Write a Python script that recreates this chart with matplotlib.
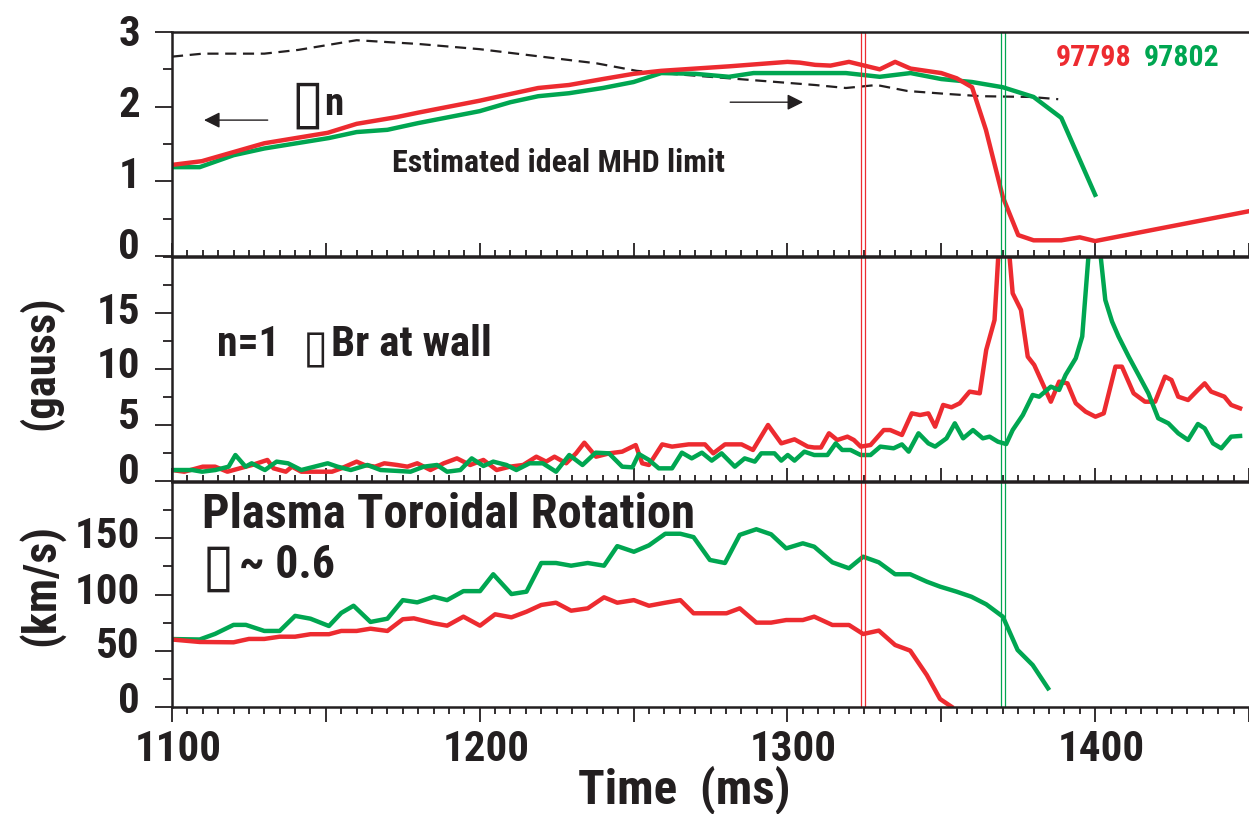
import numpy as np
import matplotlib.pyplot as plt
from matplotlib import font_manager
from matplotlib.transforms import ScaledTranslation

# a narrow bold sans is closest to the original lettering; fall back to Liberation Sans
available = {f.name for f in font_manager.fontManager.ttflist}
narrow = None
for cand in ['Roboto Condensed', 'Liberation Sans Narrow', 'Arial Narrow', 'Nimbus Sans Narrow']:
    if cand in available:
        narrow = cand
        break
if narrow:
    plt.rcParams['font.family'] = [narrow, 'DejaVu Sans']
    k = 1.0
else:
    plt.rcParams['font.family'] = ['Liberation Sans', 'DejaVu Sans']
    k = 0.88
plt.rcParams['font.weight'] = 'bold'

RED = '#ED2B30'
GREEN = '#00A651'
INK = '#231F20'

# ---- top panel: beta_n and ideal MHD limit ----
t_beta_red = [1100, 1109.7, 1130, 1150.6, 1160, 1173, 1180, 1200, 1210, 1219, 1229, 1240,
              1250, 1259, 1281, 1300, 1304, 1309, 1314, 1320, 1325, 1330, 1335, 1340,
              1350, 1355, 1360, 1364.5, 1370, 1375, 1380, 1389, 1395, 1400, 1450]
beta_red = [1.22, 1.27, 1.51, 1.65, 1.77, 1.86, 1.92, 2.08, 2.17, 2.25, 2.29, 2.37,
            2.44, 2.48, 2.54, 2.60, 2.59, 2.56, 2.55, 2.60, 2.55, 2.50, 2.60, 2.51,
            2.45, 2.38, 2.26, 1.69, 0.79, 0.28, 0.21, 0.21, 0.25, 0.20, 0.60]
t_beta_green = [1100, 1109, 1120, 1130, 1151, 1160, 1170, 1180, 1200, 1210, 1219, 1229,
                1240, 1250, 1259, 1270, 1281, 1289, 1309, 1319, 1330, 1340, 1350, 1360,
                1370, 1380, 1389, 1400]
beta_green = [1.19, 1.19, 1.35, 1.44, 1.58, 1.66, 1.69, 1.78, 1.94, 2.06, 2.14, 2.18,
              2.25, 2.33, 2.45, 2.44, 2.40, 2.45, 2.45, 2.45, 2.40, 2.45, 2.37, 2.33,
              2.26, 2.13, 1.85, 0.82]
t_limit = [1100, 1110, 1130, 1141, 1160, 1180, 1200, 1218, 1238, 1251, 1259, 1281,
           1309, 1319, 1329, 1339, 1352, 1363, 1379, 1388]
beta_limit = [2.67, 2.71, 2.71, 2.76, 2.89, 2.84, 2.77, 2.68, 2.58, 2.48, 2.45, 2.38,
              2.29, 2.25, 2.29, 2.21, 2.17, 2.14, 2.13, 2.10]

# ---- middle panel: n=1 dBr at wall (gauss) ----
t_br_red = [1100, 1104, 1110, 1114, 1118, 1122, 1126, 1131, 1133, 1137, 1139, 1142,
            1147, 1152, 1155, 1160, 1162.5, 1166, 1169, 1173.2, 1176.5, 1179.7, 1184,
            1188.3, 1192.6, 1196.9, 1201.2, 1205.5, 1209.8, 1214.1, 1218.4, 1221.6,
            1224.3, 1228.1, 1231.3, 1234, 1237.8, 1242.1, 1246.3, 1250.7, 1252.8, 1255,
            1259.3, 1262.5, 1267.9, 1273.2, 1275.9, 1279.7, 1285.1, 1288.8, 1293.7,
            1298, 1302.3, 1306.6, 1308.7, 1310.9, 1313.5, 1316.2, 1319.5, 1321.6,
            1323.8, 1327, 1331.3, 1333.4, 1337.2, 1340.4, 1343.1, 1345.8, 1348,
            1350.6, 1353.3, 1356, 1359.2, 1362.5, 1364.6, 1367.3, 1370, 1373.2,
            1375.9, 1378.1, 1380.2, 1382.9, 1385.6, 1388.3, 1391, 1393.7, 1396.9,
            1400.1, 1402.8, 1406.6, 1408.7, 1412.5, 1416.2, 1419.5, 1422.7, 1424.8,
            1427, 1430.2, 1433.4, 1435.6, 1437.7, 1442, 1444.2, 1447.1]
br_red = [0.98, 0.83, 1.28, 1.28, 0.83, 1.13, 1.43, 1.88, 1.13, 0.83, 1.28, 0.83,
          0.83, 0.83, 1.13, 1.73, 1.43, 1.28, 1.58, 1.43, 1.28, 1.58, 0.98,
          1.58, 2.02, 1.43, 1.88, 0.98, 1.28, 1.43, 2.17, 1.73,
          2.17, 1.58, 2.47, 3.42, 2.17, 2.47, 2.62, 3.21, 1.58, 1.43,
          3.27, 3.07, 3.27, 3.27, 2.47, 3.27, 3.27, 2.77, 5.0,
          3.36, 3.72, 3.07, 2.99, 2.99, 4.26, 3.66, 3.96, 3.66,
          3.07, 3.21, 4.55, 4.55, 4.11, 6.04, 5.89, 6.04, 4.85,
          6.79, 6.58, 6.94, 7.98, 7.83, 11.7, 14.37, 27.0, 16.76,
          15.27, 11.1, 10.36, 8.72, 7.08, 8.87, 8.72, 6.94, 6.19,
          5.74, 6.04, 10.21, 10.21, 7.83, 7.08, 7.08, 9.32, 9.02,
          7.53, 7.23, 8.13, 8.72, 7.98, 7.53, 6.79, 6.49]
t_br_green = [1100, 1106.6, 1109.8, 1114.1, 1118.4, 1120.6, 1123.9, 1125.9, 1130.2,
              1134, 1137.7, 1142, 1146.3, 1150.6, 1153.8, 1158.1, 1163.5, 1167.8,
              1173.2, 1177.5, 1181.8, 1186.1, 1189.4, 1193.7, 1197.4, 1201.2, 1204.4,
              1208.7, 1211.9, 1216.2, 1220.5, 1224.8, 1229.1, 1233.4, 1237.7, 1242,
              1246.3, 1249.6, 1251.7, 1255, 1258.2, 1262.5, 1265.7, 1268.9, 1272.2,
              1275.4, 1278.6, 1282.9, 1286.1, 1289.4, 1291.5, 1295.8, 1298, 1300.1,
              1302.3, 1305.5, 1308.7, 1313, 1315.7, 1317.8, 1320.5, 1323.8, 1327,
              1330.2, 1334.5, 1337.2, 1339.4, 1342.6, 1345.8, 1348, 1351.7, 1354.4,
              1357.1, 1360.3, 1363.5, 1365.7, 1368.4, 1371.1, 1373.2, 1376.5, 1379.7,
              1381.8, 1385.6, 1388.3, 1390.4, 1393.7, 1395.8, 1399.5, 1403.3, 1405.5,
              1407.6, 1410.9, 1414.1, 1417.3, 1420.5, 1423.8, 1427, 1430.2, 1433.4,
              1435.6, 1438.3, 1441, 1444.2, 1447.1]
br_green = [0.98, 0.98, 0.83, 0.98, 1.28, 2.32, 1.28, 1.58, 0.98,
            1.73, 1.58, 0.98, 1.28, 1.58, 1.28, 0.98, 1.43, 0.98,
            0.9, 0.83, 1.28, 1.43, 0.83, 0.98, 2.02, 1.34, 1.73,
            1.43, 0.98, 1.58, 1.58, 0.83, 2.32, 1.43, 2.53, 2.47,
            1.28, 1.22, 2.41, 1.88, 1.13, 1.13, 2.53, 2.02, 2.53,
            1.82, 2.47, 1.28, 2.02, 1.73, 2.47, 2.47, 1.82, 2.32,
            1.82, 2.62, 2.32, 2.32, 3.36, 2.77, 2.77, 2.32, 2.32,
            3.07, 2.92, 3.27, 2.62, 4.26, 3.36, 3.07, 3.81, 5.15,
            3.81, 4.55, 3.81, 3.96, 3.51, 3.30, 4.55, 5.89, 7.68,
            7.53, 8.42, 8.13, 9.47, 10.96, 12.9, 26.0, 16.16, 14.23,
            12.9, 11.1, 9.47, 7.83, 5.6, 5.15, 4.26, 3.66, 5.09,
            4.7, 3.36, 2.92, 3.96, 4.02]

# ---- bottom panel: plasma toroidal rotation (km/s) ----
t_rot_red = [1100, 1109, 1120, 1125, 1130, 1135, 1140, 1145, 1151, 1155, 1160, 1164.5,
             1170, 1175, 1178.6, 1185.1, 1189.4, 1194.7, 1200.1, 1205, 1210.3, 1215.2,
             1220, 1224.8, 1229.7, 1235.1, 1240.4, 1244.7, 1250.1, 1255, 1260.3,
             1265.2, 1269.5, 1274.8, 1280.2, 1284.5, 1289.9, 1294.7, 1299.6, 1305,
             1308.7, 1314.6, 1320, 1324.6, 1329.7, 1335, 1339.9, 1345.3, 1349.6, 1353.3]
rot_red = [60, 57.8, 57.5, 60.5, 60.5, 62.5, 62.5, 64.7, 64.7, 67.6, 67.6, 69.6,
           67.6, 78, 78.8, 74.4, 72.3, 80.3, 72.3, 82.4, 79.7, 84.7,
           90.7, 92.7, 85.6, 87.7, 97.5, 92.7, 95, 90, 92.7,
           95, 83.3, 83.3, 83.3, 87.7, 75, 75, 77.3, 77.3,
           80.3, 72.9, 72.9, 64.9, 67.9, 55.1, 50.1, 28.4, 7.1, 0.3]
t_rot_green = [1100, 1109, 1114, 1120, 1124, 1130, 1135, 1140, 1145, 1151, 1155, 1159,
               1164.5, 1170, 1175, 1179.7, 1185.1, 1189.4, 1194.7, 1200.1, 1204.4,
               1210.3, 1215.2, 1220, 1224.8, 1229.7, 1235.1, 1240.4, 1244.7, 1250.1,
               1255, 1260.3, 1265.2, 1269.5, 1274.8, 1279.7, 1284.5, 1289.9, 1294.7,
               1299.6, 1305, 1308.7, 1314.6, 1320, 1324.6, 1329.7, 1335, 1339.9,
               1345.3, 1349.6, 1355, 1359.8, 1364.6, 1370, 1374.8, 1379.7, 1384.7]
rot_green = [60.4, 60, 65, 73, 73, 67.6, 67.6, 81, 78.5, 72, 83.6, 90,
             75.6, 78.5, 95, 93, 98, 95, 103, 103, 118,
             100.4, 102.5, 128, 128, 125.6, 128, 125.6, 143, 138,
             143.7, 154, 154, 151, 130.7, 128, 153, 158, 153.5,
             141, 145.5, 142.5, 128.6, 123.3, 133.6, 128.6, 118, 118,
             111.4, 107, 102.5, 98, 91.3, 80.3, 50.7, 37.3, 16.6]

red_marks = [1323.8, 1325.1]
green_marks = [1369.5, 1370.8]

W, H = 1249, 814
fig = plt.figure(figsize=(W / 100, H / 100), dpi=100)
left = 172 / W
width = 1 - left
ax1 = fig.add_axes([left, 1 - 256 / H, width, 224 / H])
ax2 = fig.add_axes([left, 1 - 481 / H, width, 224 / H])
ax3 = fig.add_axes([left, 1 - 707 / H, width, 225 / H])

lw = 3.2
ax1.plot(t_limit, beta_limit, color=INK, lw=1.6, ls=(0, (5, 3)))
ax1.plot(t_beta_green, beta_green, color=GREEN, lw=lw)
ax1.plot(t_beta_red, beta_red, color=RED, lw=lw)
ax2.plot(t_br_red, br_red, color=RED, lw=lw)
ax2.plot(t_br_green, br_green, color=GREEN, lw=lw)
ax3.plot(t_rot_green, rot_green, color=GREEN, lw=lw)
ax3.plot(t_rot_red, rot_red, color=RED, lw=lw)

ax1.set_ylim(0, 3)
ax2.set_ylim(0, 20)
ax3.set_ylim(0, 200)
ax1.set_yticks([0, 1, 2, 3])
ax1.set_yticks([0.5, 1.5, 2.5], minor=True)
ax2.set_yticks([0, 5, 10, 15])
ax2.set_yticks([2.5, 7.5, 12.5, 17.5, 20], minor=True)
ax3.set_yticks([0, 50, 100, 150])
ax3.set_yticks([25, 75, 125, 175], minor=True)

# the printed tick labels sit a little above their ticks, more so near the bottom
label_lift = {ax1: [13, 9, 6, 2], ax2: [13, 12, 7, 5], ax3: [10, 9, 7, 6]}
xlab_shift = ScaledTranslation(6 / 100, 0, fig.dpi_scale_trans)
for ax in (ax1, ax2, ax3):
    ax.set_xlim(1100, 1447)
    ax.set_xticks(np.arange(1100, 1451, 50))
    ax.set_xticks(np.arange(1100, 1451, 5), minor=True)
    ax.spines['right'].set_visible(False)
    for s in ('left', 'top', 'bottom'):
        ax.spines[s].set_linewidth(1.8)
        ax.spines[s].set_color(INK)
    ax.tick_params(axis='y', which='major', direction='out', length=12, width=1.3,
                   labelsize=31 * k, pad=11, colors=INK)
    ax.tick_params(axis='y', which='minor', direction='out', length=6.5, width=1.3,
                   colors=INK)
    for lab, lift in zip(ax.get_yticklabels(), label_lift[ax]):
        lab.set_transform(lab.get_transform()
                          + ScaledTranslation(0, lift / 100, fig.dpi_scale_trans))
        lab.set_fontweight('bold')
    for m in red_marks:
        ax.axvline(m, color=RED, lw=0.9)
    for m in green_marks:
        ax.axvline(m, color=GREEN, lw=0.9)

for ax in (ax1, ax2):
    ax.tick_params(axis='x', which='major', direction='in', length=9.5, width=1.3,
                   labelbottom=False, colors=INK)
    ax.tick_params(axis='x', which='minor', direction='in', length=4.5, width=1.3,
                   colors=INK)
ax3.tick_params(axis='x', which='major', direction='out', length=11, width=1.3,
                labelsize=31 * k, pad=5, colors=INK)
ax3.tick_params(axis='x', which='minor', direction='out', length=5, width=1.3,
                colors=INK)
ax3.set_xticklabels(['1100', '', '1200', '', '1300', '', '1400', ''])
for lab in ax3.get_xticklabels():
    lab.set_transform(lab.get_transform() + xlab_shift)
    lab.set_fontweight('bold')

# annotations, top panel
ax1.annotate('', xy=(1109.5, 1.82), xytext=(1132, 1.82),
             arrowprops=dict(arrowstyle='-|>', color=INK, lw=1.0, mutation_scale=24))
ax1.annotate('', xy=(1306, 2.06), xytext=(1280.5, 2.06),
             arrowprops=dict(arrowstyle='-|>', color=INK, lw=1.0, mutation_scale=24))
box = ax1.text(1138.5, 1.80, '▯', fontsize=44, color=INK, va='baseline', ha='left',
               family='DejaVu Sans', fontweight='normal')
# put the subscript-like "n" right after the box glyph's advance
fig.canvas.draw()
bb = box.get_window_extent()
n_x = ax1.transData.inverted().transform((bb.x1 + 0.5, 0))[0]
ax1.text(n_x, 1.89, 'n', fontsize=28 * k, color=INK, va='baseline', ha='left')
ax1.text(1171.6, 1.13, 'Estimated ideal MHD limit', fontsize=23 * k, color=INK,
         va='baseline', ha='left')
ax1.text(1411.9, 2.55, '97798', fontsize=21.5 * k, color=RED, va='baseline', ha='right')
ax1.text(1415.8, 2.55, '97802', fontsize=21.5 * k, color=GREEN, va='baseline', ha='left')

# middle panel
ax2.text(1114.5, 11.16, 'n=1', fontsize=30 * k, color=INK, va='baseline', ha='left')
ax2.text(1142.5, 10.6, '▯', fontsize=33, color=INK, va='baseline', ha='left',
         family='DejaVu Sans', fontweight='normal')
ax2.text(1151.6, 11.16, 'Br at wall', fontsize=31 * k, color=INK,
         va='baseline', ha='left')

# bottom panel
ax3.text(1109.7, 159, 'Plasma Toroidal Rotation', fontsize=35 * k, color=INK,
         va='baseline', ha='left')
ax3.text(1109.6, 108.5, '▯', fontsize=43, color=INK, va='baseline', ha='left',
         family='DejaVu Sans', fontweight='normal')
ax3.text(1121.8, 114.7, '~ 0.6', fontsize=33 * k, color=INK, va='baseline', ha='left')

fig.text(41 / W, 1 - 363 / H, '(gauss)', rotation=90, fontsize=32 * k, color=INK,
         ha='center', va='center')
fig.text(41 / W, 1 - 585 / H, '(km/s)', rotation=90, fontsize=33 * k, color=INK,
         ha='center', va='center')
fig.text(684 / W, 1 - 790 / H, 'Time  (ms)', fontsize=35.5 * k, color=INK,
         ha='center', va='center')

fig.savefig('out.png', dpi=100)
